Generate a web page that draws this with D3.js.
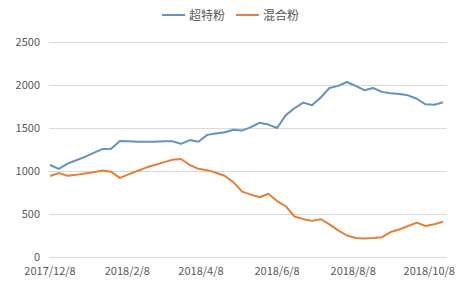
<!DOCTYPE html>
<html>
<head>
<meta charset="utf-8">
<script src="https://cdn.jsdelivr.net/npm/d3@7"></script>
<style>
  body { margin: 0; background: #fff; }
  svg { font-family: "Noto Sans CJK SC", "Liberation Sans", sans-serif; }
</style>
</head>
<body>
<svg id="chart"></svg>
<script>
// weekly dates, first one 2017/12/8
const startDate = '2017-12-08';
const weeks = 46;

const seriesNames = ['超特粉', '混合粉'];

const superFlour = [1070, 1025, 1085, 1125, 1165, 1210, 1255, 1258, 1350, 1345,
  1340, 1340, 1340, 1345, 1345, 1315, 1360, 1340, 1420, 1435,
  1450, 1480, 1470, 1510, 1560, 1540, 1500, 1650, 1730, 1795,
  1765, 1855, 1965, 1990, 2035, 1990, 1940, 1965, 1920, 1905,
  1895, 1880, 1840, 1775, 1770, 1800];

const mixedFlour = [942, 975, 945, 955, 970, 985, 1005, 990, 920, 960,
  1000, 1040, 1070, 1100, 1130, 1140, 1070, 1025, 1010, 980,
  945, 870, 760, 725, 695, 735, 650, 590, 470, 440,
  420, 440, 380, 310, 250, 220, 215, 220, 230, 290,
  320, 360, 400, 360, 380, 410];

const yTicks = [0, 500, 1000, 1500, 2000, 2500];
const xTickLabels = ['2017/12/8', '2018/2/8', '2018/4/8', '2018/6/8', '2018/8/8', '2018/10/8'];

const colors = ['#6592BF', '#E4803A'];

let w = 468;
let h = 285;

let parse = d3.timeParse('%Y-%m-%d');
let parseLabel = d3.timeParse('%Y/%m/%d');
let dates = d3.range(weeks).map((i) => d3.timeDay.offset(parse(startDate), i * 7));

let svg = d3.select('#chart')
  .attr('width', w)
  .attr('height', h);

let xScale = d3.scaleTime()
  .domain([dates[0], dates[dates.length - 1]])
  .range([50, 443]);

let yScale = d3.scaleLinear()
  .domain([0, 2500])
  .range([257, 42]);

// gridlines
svg.append('g')
  .selectAll('line')
  .data(yTicks)
  .enter()
  .append('line')
  .attr('x1', 49)
  .attr('x2', 447)
  .attr('y1', (d) => yScale(d) + 0.5)
  .attr('y2', (d) => yScale(d) + 0.5)
  .attr('stroke', '#d9d9d9')
  .attr('stroke-width', 1);

// y labels
svg.append('g')
  .selectAll('text')
  .data(yTicks)
  .enter()
  .append('text')
  .attr('x', 40)
  .attr('y', (d) => yScale(d) + 3.5)
  .attr('text-anchor', 'end')
  .attr('font-size', '11px')
  .attr('fill', '#595959')
  .text((d) => d);

// x labels
svg.append('g')
  .selectAll('text')
  .data(xTickLabels)
  .enter()
  .append('text')
  .attr('x', (d) => xScale(parseLabel(d)))
  .attr('y', 275)
  .attr('text-anchor', 'middle')
  .attr('font-size', '11px')
  .attr('fill', '#595959')
  .text((d) => d);

// lines
let line = d3.line()
  .x((d, i) => xScale(dates[i]))
  .y((d) => yScale(d));

[superFlour, mixedFlour].forEach((s, i) => {
  svg.append('path')
    .datum(s)
    .attr('d', line)
    .attr('fill', 'none')
    .attr('stroke', colors[i])
    .attr('stroke-width', 2)
    .attr('stroke-linejoin', 'round');
});

// legend
let legendX = [162, 236];
seriesNames.forEach((name, i) => {
  let g = svg.append('g').attr('transform', `translate(${legendX[i]}, 15)`);
  g.append('line')
    .attr('x1', 0).attr('x2', 23)
    .attr('y1', 0).attr('y2', 0)
    .attr('stroke', colors[i])
    .attr('stroke-width', 2);
  g.append('text')
    .attr('x', 27)
    .attr('y', 4.5)
    .attr('font-size', '12px')
    .attr('fill', '#595959')
    .text(name);
});
</script>
</body>
</html>
